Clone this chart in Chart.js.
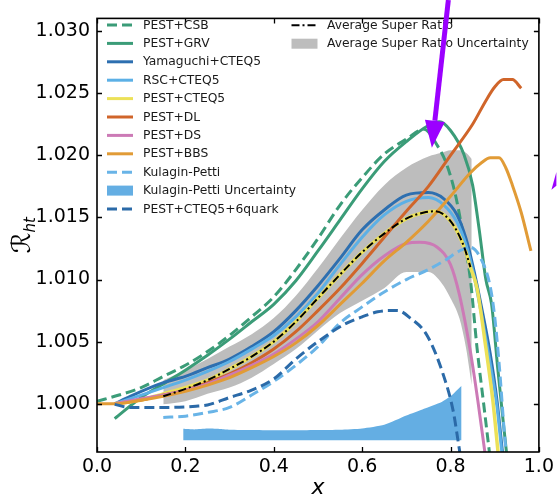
<!DOCTYPE html>
<html><head><meta charset="utf-8">
<script src="https://cdn.jsdelivr.net/npm/chart.js@4.4.0/dist/chart.umd.min.js"></script>
<style>html,body{margin:0;padding:0;background:#fff;}canvas{display:block;}</style>
</head><body>
<canvas id="c" width="558" height="498"></canvas>
<script>
// ---- tick labels ----
const xTicks = [0.0, 0.2, 0.4, 0.6, 0.8, 1.0];
const yTicks = [1.000, 1.005, 1.010, 1.015, 1.020, 1.025, 1.030];

// ---- series ----
const csbX = [0.00,0.05,0.10,0.15,0.20,0.25,0.30,0.35,0.40,0.45,0.50,0.55,0.60,0.65,0.70,0.74,0.77,0.79,0.81,0.83,0.845,0.86,0.875,0.89];
const csbY = [1.0002,1.0007,1.0013,1.0022,1.0031,1.0042,1.0055,1.0070,1.0086,1.0108,1.0133,1.0160,1.0182,1.0201,1.0213,1.0221,1.0208,1.0194,1.0170,1.0133,1.0100,1.0045,1.0000,0.9955];

const grvX = [0.04,0.10,0.15,0.20,0.25,0.30,0.35,0.40,0.45,0.50,0.55,0.60,0.65,0.70,0.75,0.775,0.80,0.83,0.85,0.865,0.88,0.893,0.907,0.92,0.93];
const grvY = [0.9988,1.0005,1.0016,1.0027,1.0039,1.0052,1.0066,1.0080,1.0099,1.0123,1.0148,1.0173,1.0195,1.0211,1.0224,1.0227,1.0220,1.0201,1.0176,1.0140,1.0100,1.0080,1.0028,0.9983,0.9950];

const yamX = [0.04,0.075,0.15,0.20,0.25,0.30,0.35,0.40,0.45,0.50,0.55,0.60,0.65,0.70,0.75,0.785,0.815,0.835,0.85,0.87,0.89,0.905,0.917,0.925];
const yamY = [1.0000,1.0006,1.0017,1.0022,1.0029,1.0036,1.0046,1.0058,1.0075,1.0095,1.0117,1.0140,1.0156,1.0168,1.0170,1.0165,1.0152,1.0133,1.0112,1.0078,1.0040,1.0003,0.9963,0.9935];

const rscX = [0.04,0.10,0.15,0.20,0.25,0.30,0.35,0.40,0.45,0.50,0.55,0.60,0.65,0.70,0.75,0.785,0.815,0.835,0.85,0.87,0.89,0.905,0.915,0.925];
const rscY = [1.0000,1.0007,1.0013,1.0019,1.0026,1.0034,1.0044,1.0055,1.0070,1.0089,1.0112,1.0134,1.0152,1.0163,1.0166,1.0160,1.0146,1.0128,1.0108,1.0072,1.0032,0.9998,0.9965,0.9935];

const cteqX = [0.04,0.10,0.15,0.20,0.25,0.30,0.35,0.40,0.45,0.50,0.55,0.60,0.65,0.70,0.74,0.765,0.80,0.83,0.845,0.86,0.88,0.896,0.907,0.915];
const cteqY = [1.0000,1.0003,1.0008,1.0013,1.0019,1.0028,1.0038,1.0050,1.0066,1.0085,1.0104,1.0122,1.0137,1.0149,1.0154,1.0155,1.0147,1.0127,1.0110,1.0093,1.0045,1.0002,0.9963,0.9935];

const dlX = [0.04,0.10,0.15,0.20,0.25,0.30,0.35,0.40,0.45,0.50,0.55,0.60,0.65,0.70,0.75,0.80,0.85,0.88,0.90,0.92,0.94,0.96];
const dlY = [1.0000,1.0003,1.0007,1.0011,1.0017,1.0024,1.0033,1.0044,1.0058,1.0075,1.0093,1.0113,1.0134,1.0155,1.0175,1.0200,1.0225,1.0244,1.0255,1.0261,1.0261,1.0254];

const dsX = [0.04,0.10,0.15,0.20,0.25,0.30,0.35,0.40,0.45,0.50,0.55,0.60,0.65,0.70,0.73,0.77,0.80,0.82,0.845,0.862,0.877,0.89];
const dsY = [1.0000,1.0004,1.0007,1.0011,1.0016,1.0023,1.0031,1.0040,1.0052,1.0066,1.0085,1.0104,1.0119,1.0129,1.0130,1.0126,1.0112,1.0088,1.0042,1.0002,0.9963,0.9930];

const bbsX = [0.00,0.04,0.10,0.15,0.20,0.25,0.30,0.35,0.40,0.45,0.50,0.55,0.60,0.65,0.70,0.75,0.80,0.845,0.87,0.89,0.91,0.925,0.94,0.96,0.982];
const bbsY = [1.0000,1.0000,1.0003,1.0006,1.0010,1.0015,1.0021,1.0029,1.0038,1.0049,1.0063,1.0080,1.0097,1.0115,1.0130,1.0147,1.0167,1.0186,1.0194,1.0198,1.0198,1.0190,1.0176,1.0154,1.0123];

const kpX = [0.15,0.20,0.25,0.30,0.35,0.40,0.45,0.50,0.55,0.60,0.65,0.70,0.75,0.79,0.82,0.845,0.875,0.89,0.90,0.911,0.922,0.93];
const kpY = [0.9989,0.9990,0.9993,0.9997,1.0007,1.0018,1.0031,1.0046,1.0065,1.0078,1.0090,1.0100,1.0108,1.0116,1.0123,1.0126,1.0112,1.0094,1.0070,1.0028,0.9976,0.9945];

const kpBandX = [0.195,0.22,0.25,0.28,0.30,0.35,0.40,0.45,0.50,0.55,0.60,0.65,0.70,0.74,0.78,0.80,0.825];
const kpBandUp = [0.99798,0.99793,0.99800,0.99796,0.99790,0.99788,0.99786,0.99786,0.99788,0.99790,0.99800,0.99830,0.99905,0.99960,1.00015,1.00060,1.00145];
const kpBandLo = [0.99706,0.99706,0.99706,0.99706,0.99706,0.99706,0.99706,0.99706,0.99706,0.99706,0.99706,0.99706,0.99706,0.99706,0.99706,0.99706,0.99706];

const sixqX = [0.04,0.075,0.15,0.224,0.25,0.30,0.35,0.40,0.45,0.50,0.56,0.60,0.635,0.66,0.68,0.709,0.747,0.784,0.806,0.818,0.83];
const sixqY = [0.99995,0.9997,0.9997,0.9998,0.9999,1.0005,1.0011,1.0020,1.0036,1.0050,1.0064,1.0070,1.0074,1.0075,1.0075,1.0069,1.0055,1.0023,0.99943,0.9968,0.9940];

const avgX = [0.15,0.20,0.25,0.30,0.35,0.40,0.45,0.50,0.55,0.60,0.65,0.70,0.74,0.765,0.80,0.83,0.845];
const avgY = [1.0006,1.0012,1.0019,1.0028,1.0038,1.0050,1.0066,1.0085,1.0104,1.0122,1.0137,1.0149,1.0154,1.0155,1.0147,1.0127,1.0110];

const avgBandX = [0.15,0.20,0.25,0.30,0.35,0.40,0.45,0.50,0.55,0.60,0.65,0.70,0.75,0.78,0.80,0.82,0.835,0.848];
const avgBandUp = [1.0019,1.0027,1.0036,1.0046,1.0056,1.0069,1.0087,1.0109,1.0133,1.0156,1.0176,1.0190,1.0199,1.0202,1.0204,1.0204,1.0202,1.0197];
const avgBandLo = [0.99995,1.0002,1.0008,1.0013,1.0021,1.0032,1.0044,1.0059,1.0073,1.0083,1.0093,1.0106,1.0106,1.0097,1.0085,1.0069,1.0045,1.0015];

// annotation arrow (data coordinates)
const arrowFrom = [0.7951, 1.0325];
const arrowTo = [0.7578, 1.02062];

const C = {
  green: '#3b9c78', blue: '#2d6fb0', lblue: '#5cb0e6', yellow: '#ece158',
  dl: '#d0652a', ds: '#cc7ab6', bbs: '#e19b36', kp: '#69b4e7', kpFill: '#64aee3',
  sixq: '#2b6aa8', gray: '#bdbdbd'
};

function pts(xs, ys) { return xs.map((x, i) => ({x: x, y: ys[i]})); }
function line(label, xs, ys, color, dash, width, order) {
  return {label, data: pts(xs, ys), borderColor: color, backgroundColor: color,
    borderDash: dash || [], borderWidth: width || 3, pointRadius: 0, fill: false,
    cubicInterpolationMode: 'monotone', order: order, borderCapStyle: 'butt'};
}

const datasets = [
  line('PEST+CSB', csbX, csbY, C.green, [10, 5], 3, 50),
  line('PEST+GRV', grvX, grvY, C.green, null, 3, 49),
  line('Yamaguchi+CTEQ5', yamX, yamY, C.blue, null, 3, 48),
  line('RSC+CTEQ5', rscX, rscY, C.lblue, null, 3, 47),
  line('PEST+CTEQ5', cteqX, cteqY, C.yellow, null, 3.5, 46),
  line('PEST+DL', dlX, dlY, C.dl, null, 3, 45),
  line('PEST+DS', dsX, dsY, C.ds, null, 3, 44),
  line('PEST+BBS', bbsX, bbsY, C.bbs, null, 3, 43),
  line('Kulagin-Petti', kpX, kpY, C.kp, [10, 5], 3, 42),
  line('PEST+CTEQ5+6quark', sixqX, sixqY, C.sixq, [10, 5], 3, 41),
  line('Average Super Ratio', avgX, avgY, '#000000', [8, 3, 2, 3], 2, 0),
  // bands
  {label: 'kpLo', data: pts(kpBandX, kpBandLo), borderWidth: 0, pointRadius: 0, fill: false, order: 90, tension: 0.2},
  {label: 'Kulagin-Petti Uncertainty', data: pts(kpBandX, kpBandUp), borderWidth: 0, pointRadius: 0, fill: 11,
    backgroundColor: C.kpFill, order: 90, tension: 0.2},
  {label: 'avgLo', data: pts(avgBandX, avgBandLo), borderWidth: 0, pointRadius: 0, fill: false, order: 100, cubicInterpolationMode: 'monotone'},
  {label: 'Average Super Ratio Uncertainty', data: pts(avgBandX, avgBandUp), borderWidth: 0, pointRadius: 0, fill: 13,
    backgroundColor: C.gray, order: 100, cubicInterpolationMode: 'monotone'}
];

const legendLeft = [
  ['PEST+CSB', C.green, 'dash'], ['PEST+GRV', C.green, 'line'], ['Yamaguchi+CTEQ5', C.blue, 'line'],
  ['RSC+CTEQ5', C.lblue, 'line'], ['PEST+CTEQ5', C.yellow, 'line'], ['PEST+DL', C.dl, 'line'],
  ['PEST+DS', C.ds, 'line'], ['PEST+BBS', C.bbs, 'line'], ['Kulagin-Petti', C.kp, 'dash'],
  ['Kulagin-Petti Uncertainty', C.kpFill, 'patch'], ['PEST+CTEQ5+6quark', C.sixq, 'dash']
];
const legendRight = [
  ['Average Super Ratio', '#000000', 'dashdot'], ['Average Super Ratio Uncertainty', C.gray, 'patch']
];

const FONT = '"DejaVu Sans", sans-serif';

const decor = {
  id: 'decor',
  afterDraw(chart) {
    const ctx = chart.ctx, a = chart.chartArea;
    const xs = chart.scales.x, ys = chart.scales.y;
    ctx.save();
    // frame
    ctx.strokeStyle = '#000'; ctx.lineWidth = 1.6;
    ctx.strokeRect(a.left, a.top, a.right - a.left, a.bottom - a.top);
    // inward ticks on all sides
    ctx.lineWidth = 1.3;
    ctx.beginPath();
    xTicks.forEach(v => {
      const p = Math.round(xs.getPixelForValue(v)) + 0.5;
      ctx.moveTo(p, a.bottom); ctx.lineTo(p, a.bottom - 5);
      ctx.moveTo(p, a.top); ctx.lineTo(p, a.top + 5);
    });
    yTicks.forEach(v => {
      const p = Math.round(ys.getPixelForValue(v)) + 0.5;
      ctx.moveTo(a.left, p); ctx.lineTo(a.left + 5, p);
      ctx.moveTo(a.right, p); ctx.lineTo(a.right - 5, p);
    });
    ctx.stroke();

    // legend
    function sample(x0, y, kind, color) {
      ctx.save();
      if (kind === 'patch') {
        ctx.fillStyle = color; ctx.fillRect(x0, y - 5, 26, 10);
      } else {
        ctx.strokeStyle = color; ctx.lineWidth = kind === 'dashdot' ? 2 : 3;
        if (kind === 'dash') ctx.setLineDash([10, 5]);
        if (kind === 'dashdot') ctx.setLineDash([8, 3, 2, 3]);
        ctx.beginPath(); ctx.moveTo(x0, y); ctx.lineTo(x0 + 26, y); ctx.stroke();
      }
      ctx.restore();
    }
    ctx.font = '12.3px ' + FONT; ctx.fillStyle = '#1a1a1a';
    ctx.textBaseline = 'middle'; ctx.textAlign = 'left';
    legendLeft.forEach((e, i) => {
      const y = 25 + i * 18.4;
      sample(107, y, e[2], e[1]);
      ctx.fillText(e[0], 143, y + 0.5);
    });
    legendRight.forEach((e, i) => {
      const y = 25.3 + i * 18.4;
      sample(291.5, y, e[2], e[1]);
      ctx.fillText(e[0], 327, y + 0.5);
    });

    // y axis title: script R with subscript ht
    ctx.save();
    ctx.translate(22, (a.top + a.bottom) / 2);
    ctx.rotate(-Math.PI / 2);
    ctx.fillStyle = '#000';
    ctx.textBaseline = 'alphabetic';
    const f1 = '26px ' + FONT, f2 = 'italic 15px ' + FONT;
    ctx.font = f1; const w1 = ctx.measureText('\u211B').width;
    ctx.font = f2; const w2 = ctx.measureText('ht').width;
    const x0 = -(w1 + w2) / 2;
    ctx.font = f1; ctx.fillText('\u211B', x0, 8);
    ctx.font = f2; ctx.fillText('ht', x0 + w1, 13);
    ctx.restore();

    // purple annotation arrow
    const px0 = xs.getPixelForValue(arrowFrom[0]), py0 = ys.getPixelForValue(arrowFrom[1]);
    const px1 = xs.getPixelForValue(arrowTo[0]), py1 = ys.getPixelForValue(arrowTo[1]);
    const dx = px1 - px0, dy = py1 - py0, L = Math.hypot(dx, dy);
    const ux = dx / L, uy = dy / L, hl = 27, hw = 10;
    ctx.strokeStyle = '#9b00ff'; ctx.fillStyle = '#9b00ff'; ctx.lineWidth = 5;
    ctx.beginPath(); ctx.moveTo(px0, py0); ctx.lineTo(px1 - ux * hl, py1 - uy * hl); ctx.stroke();
    ctx.beginPath();
    ctx.moveTo(px1, py1);
    ctx.lineTo(px1 - ux * hl - uy * hw, py1 - uy * hl + ux * hw);
    ctx.lineTo(px1 - ux * hl + uy * hw, py1 - uy * hl - ux * hw);
    ctx.closePath(); ctx.fill();
    // fragment at right edge
    ctx.beginPath();
    ctx.moveTo(xs.getPixelForValue(1.0284), ys.getPixelForValue(1.01722));
    ctx.lineTo(xs.getPixelForValue(1.0396), ys.getPixelForValue(1.01865));
    ctx.lineTo(xs.getPixelForValue(1.0396), ys.getPixelForValue(1.01755));
    ctx.closePath(); ctx.fill();
    ctx.restore();
  }
};

new Chart(document.getElementById('c'), {
  type: 'line',
  data: {datasets},
  options: {
    responsive: false, animation: false, devicePixelRatio: 1,
    layout: {padding: {top: 9, right: 15, left: 0, bottom: 0}},
    plugins: {legend: {display: false}, tooltip: {enabled: false}},
    scales: {
      x: {
        type: 'linear', min: 0, max: 1.0,
        afterBuildTicks: s => { s.ticks = xTicks.map(v => ({value: v})); },
        afterFit: s => { s.height = 46; },
        ticks: {callback: v => v.toFixed(1), color: '#000', padding: 4, font: {family: FONT, size: 19}, maxRotation: 0},
        grid: {display: false, drawTicks: false},
        border: {display: false},
        title: {display: true, text: 'x', color: '#000', padding: {top: 0, bottom: 0},
          font: {family: FONT, size: 22, style: 'italic', lineHeight: 0.9}}
      },
      y: {
        type: 'linear', min: 0.996115, max: 1.031025,
        afterBuildTicks: s => { s.ticks = yTicks.map(v => ({value: v})); },
        afterFit: s => { s.width = 97; },
        ticks: {callback: v => v.toFixed(3), color: '#000', padding: 7, font: {family: FONT, size: 19}},
        grid: {display: false, drawTicks: false},
        border: {display: false}
      }
    }
  },
  plugins: [decor]
});
</script>
</body></html>
